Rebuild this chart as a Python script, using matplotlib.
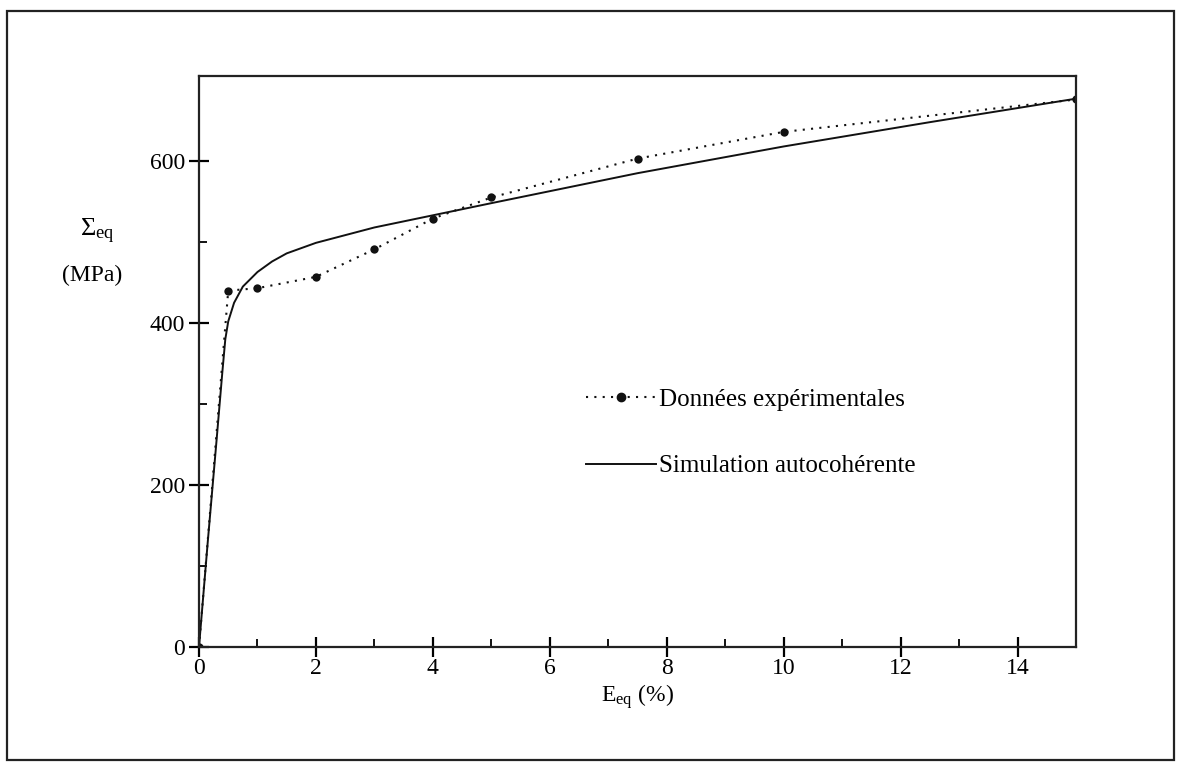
import matplotlib.pyplot as plt
from matplotlib.patches import Rectangle
from matplotlib.lines import Line2D

plt.rcParams['font.family'] = ['Liberation Serif', 'DejaVu Serif']
plt.rcParams['mathtext.fontset'] = 'custom'
plt.rcParams['mathtext.rm'] = 'Liberation Serif'
plt.rcParams['mathtext.it'] = 'Liberation Serif:italic'

# donnees experimentales
eps_exp = [0, 0.5, 1, 2, 3, 4, 5, 7.5, 10, 15]
sig_exp = [0, 440, 443, 457, 491, 529, 555, 603, 636, 676]

# simulation autocoherente
eps_sim = [0, 0.15, 0.3, 0.4, 0.45, 0.5, 0.6, 0.75, 1.0, 1.25, 1.5, 2, 3, 4, 5, 7.5, 10, 12.5, 15]
sig_sim = [0, 130, 255, 340, 380, 402, 425, 445, 463, 476, 486, 499, 518, 533, 548, 585, 618, 648, 677]

xticks = [0, 2, 4, 6, 8, 10, 12, 14]
yticks = [0, 200, 400, 600]

fig = plt.figure(figsize=(11.77, 7.63), dpi=100)
fig.patches.append(Rectangle((7 / 1177, 3 / 763), 1167 / 1177, 749 / 763, transform=fig.transFigure,
                             fill=False, edgecolor="#222222", linewidth=1.6))

ax = fig.add_axes([199 / 1177, 116 / 763, 877 / 1177, 571 / 763])
ax.plot(eps_sim, sig_sim, color="#111111", linewidth=1.4)
ax.plot(eps_exp, sig_exp, color="#111111", linestyle=(0, (1, 3)), linewidth=1.5,
        marker="o", markersize=6, markeredgewidth=0)
ax.set_xlim(0, 15)
ax.set_ylim(0, 705)

for s in ["top", "right", "bottom", "left"]:
    ax.spines[s].set_linewidth(1.6)
    ax.spines[s].set_color("#222222")

ax.set_xticks(xticks)
ax.set_yticks(yticks)
ax.set_xticks([1, 3, 5, 7, 9, 11, 13], minor=True)
ax.set_yticks([100, 300, 500], minor=True)
ax.tick_params(which="major", direction="inout", length=14, width=1.6, labelsize=17, pad=3)
ax.tick_params(which="minor", direction="in", length=6, width=1.3)
ax.tick_params(axis="x", which="major", pad=1)

ax.text(-0.116, 0.727, r"$\mathregular{\Sigma_{eq}}$", transform=ax.transAxes, fontsize=19,
        ha="center", va="center")
ax.text(-0.122, 0.651, "(MPa)", transform=ax.transAxes, fontsize=17, ha="center", va="center")
ax.set_xlabel(r"E$_{\mathregular{eq}}$ (%)", fontsize=17, labelpad=2)

handles = [
    Line2D([], [], color="#111111", linestyle=(0, (1, 3)), linewidth=1.5, marker="o",
           markersize=6, markevery=[1]),
    Line2D([], [], color="#111111", linewidth=1.4),
]
ax.legend(handles, ["Données expérimentales", "Simulation autocohérente"],
          loc="upper left", bbox_to_anchor=(0.43, 0.47), frameon=False, fontsize=18,
          handlelength=2.8, handletextpad=0.1, labelspacing=1.75, borderaxespad=0)

fig.savefig("out.png", dpi=100)
